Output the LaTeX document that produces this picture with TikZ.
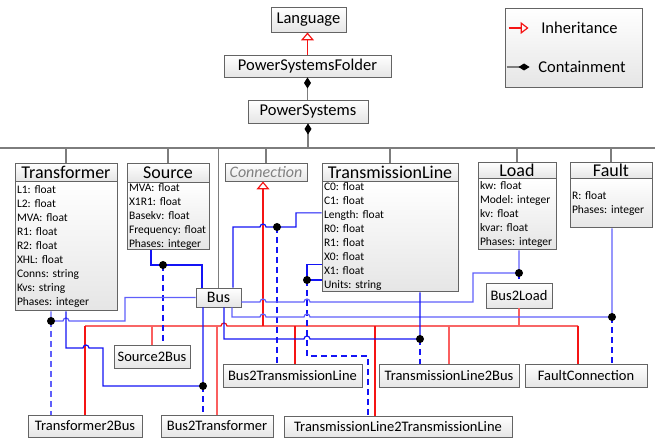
\documentclass[tikz,border=0pt]{standalone}
\usepackage{fontspec}
\setmainfont{Carlito}
\usetikzlibrary{arrows.meta, positioning, calc}

\definecolor{refblue}{RGB}{20,20,245}
\definecolor{refblueL}{RGB}{95,95,250}
\definecolor{isared}{RGB}{245,20,20}
\definecolor{isaredL}{RGB}{250,95,95}
\definecolor{treegray}{RGB}{125,125,125}
\definecolor{boxline}{RGB}{100,100,100}

\begin{document}
\frenchspacing
\hyphenpenalty=10000
\begin{tikzpicture}[x=1pt, y=-1pt,
    box/.style={draw=boxline, line width=0.9pt, top color=white, bottom color=black!10, inner sep=0pt, font=\fontsize{14.5}{17}\selectfont},
    topbox/.style={box, font=\fontsize{16.5}{19}\selectfont},
    head/.style={box, font=\fontsize{18}{20}\selectfont},
    attr/.style={box, align=left, inner xsep=2pt, font=\fontsize{11.5}{14}\selectfont},
    dot/.style={circle, fill=black, inner sep=0pt, minimum size=8pt},
    tree/.style={treegray, line width=1.1pt},
    owns/.style={tree, {Diamond[color=black, length=11pt, width=7pt]}-},
    isa/.style={isared, line width=1.2pt},
    isaL/.style={isaredL, line width=1.2pt},
    isatip/.style={{Triangle[open, length=8pt, width=13pt]}-},
    ref/.style={refblue, line width=1.2pt},
    refL/.style={refblueL, line width=1.2pt},
    refd/.style={ref, dash pattern=on 6pt off 4pt},
  ]
  \useasboundingbox (0,0) rectangle (664,438);

  % top of the model
  \node[topbox, minimum width=75pt, minimum height=25pt] (lang) at (308.5,19.5) {Language};
  \node[topbox, minimum width=167pt, minimum height=22pt] (folder) at (307.5,66) {PowerSystemsFolder};
  \node[topbox, minimum width=120pt, minimum height=23pt] (psys) at (308,111.5) {PowerSystems};

  % legend
  \node[box, minimum width=137pt, minimum height=79pt] (legend) at (573.5,47.5) {};
  \node[font=\fontsize{16.5}{19}\selectfont] (inhtxt) at (579.5,28) {Inheritance};
  \node[font=\fontsize{16.5}{19}\selectfont] (owntxt) at (582,67) {Containment};
  \draw[isa, -{Triangle[open, length=8pt, width=12pt]}] ([xshift=4pt]legend.west |- inhtxt) -- ([xshift=24pt]legend.west |- inhtxt);
  \draw[tree, -{Diamond[color=black, length=11pt, width=7pt]}] ([xshift=2pt]legend.west |- owntxt) -- ([xshift=25pt]legend.west |- owntxt);

  % classes
  \node[head, minimum width=102pt, minimum height=18pt] (trafo) at (66,172) {Transformer};
  \node[attr, text width=98pt, minimum height=129pt, below=0pt of trafo] (trafoattr)
    {L1: float\\L2: float\\MVA: float\\R1: float\\R2: float\\XHL: float\\Conns: string\\Kvs: string\\Phases: integer};
  \node[head, minimum width=82pt, minimum height=19pt] (source) at (168,172.5) {Source};
  \node[attr, text width=78pt, minimum height=67pt, below=0pt of source] (sourceattr)
    {MVA: float\\X1R1: float\\Basekv: float\\Frequency: float\\Phases: integer};
  \node[head, minimum width=82pt, minimum height=18pt, font=\fontsize{16}{19}\selectfont\itshape, text=black!50] (conn) at (266,172) {Connection};
  \node[head, minimum width=136pt, minimum height=18pt] (tline) at (390,172) {TransmissionLine};
  \node[attr, text width=132pt, minimum height=110pt, below=0pt of tline] (tlineattr)
    {C0: float\\C1: float\\Length: float\\R0: float\\R1: float\\X0: float\\X1: float\\Units: string};
  \node[head, minimum width=78pt, minimum height=16pt] (load) at (517,170) {Load};
  \node[attr, text width=74pt, minimum height=71pt, below=0pt of load] (loadattr)
    {kw: float\\Model: integer\\kv: float\\kvar: float\\Phases: integer};
  \node[head, minimum width=82pt, minimum height=16pt] (fault) at (611,170) {Fault};
  \node[attr, text width=78pt, minimum height=49pt, below=0pt of fault] (faultattr)
    {R: float\\Phases: integer};

  \node[box, font=\fontsize{16}{19}\selectfont, minimum width=45pt, minimum height=19pt] (bus) at (218.5,297.5) {Bus};

  % connection classes
  \node[box, minimum width=66pt, minimum height=25pt] (b2l) at (519,295.5) {Bus2Load};
  \node[box, minimum width=76pt, minimum height=23pt] (s2b) at (152,356.5) {Source2Bus};
  \node[box, minimum width=139pt, minimum height=23pt] (b2tl) at (292.5,375.5) {Bus2TransmissionLine};
  \node[box, minimum width=140pt, minimum height=23pt] (tl2b) at (449,375.5) {TransmissionLine2Bus};
  \node[box, minimum width=122pt, minimum height=23pt] (fconn) at (586,375.5) {FaultConnection};
  \node[box, minimum width=114pt, minimum height=22pt] (t2b) at (85,426) {Transformer2Bus};
  \node[box, minimum width=112pt, minimum height=22pt] (b2t) at (217,426) {Bus2Transformer};
  \node[box, minimum width=228pt, minimum height=21pt] (tl2tl) at (398,426.5) {TransmissionLine2TransmissionLine};

  % containment tree
  \coordinate (hub) at (308,148);
  \draw[owns] (folder.south) -- (folder.south |- psys.north);
  \draw[owns] (psys.south) -- (hub);
  \draw[tree] (0,148) -- (655,148);
  \foreach \cls in {trafo, source, conn, tline, load, fault}
    \draw[tree] (\cls.north |- hub) -- (\cls.north);
  \draw[tree] (bus.north |- hub) -- (bus.north);

  % inheritance
  \draw[isa, -{Triangle[open, length=8pt, width=13pt]}] (folder.north) -- (folder.north |- lang.south);
  \coordinate (railL) at (85,326);
  \coordinate (railR) at (578,326);
  \draw[isa, isatip] ([xshift=-3pt]conn.south) -- ([xshift=-3pt]conn.south |- railL);
  \draw[isa] (railL) -- (221,326) arc[start angle=180, end angle=360, radius=3] -- (railR);
  \draw[isa] (t2b.north |- railL) -- (t2b.north);
  \draw[isaL] (s2b.north |- railL) -- (s2b.north);
  \draw[isaL] (b2t.north |- railL) -- (b2t.north);
  \draw[isa] ([xshift=2.5pt]b2tl.north |- railL) -- ([xshift=2.5pt]b2tl.north);
  \draw[isa] ([xshift=-23pt]tl2tl.north |- railL) -- ([xshift=-23pt]tl2tl.north);
  \draw[isaL] (tl2b.north |- railL) -- (tl2b.north);
  \draw[isaL] (b2l.south |- railL) -- (b2l.south);
  \draw[isa] (railR) -- (railR |- fconn.north);

  % references
  \coordinate (t2bdot) at (51,321);
  \coordinate (sbdot) at (163,265);
  \coordinate (btdot) at (203,386);
  \coordinate (btldot) at (277,227);
  \coordinate (ttdot) at (307,280);
  \coordinate (tbdot) at (420,339);
  \coordinate (bldot) at (519,273);
  \coordinate (fdot) at (612,317);

  \draw[ref] ([xshift=-17pt]sourceattr.south) |- (sbdot) -| ([xshift=-16.5pt]bus.north);
  \draw[refd] (sbdot) -- (sbdot |- s2b.north);

  \draw[refL] ([xshift=-15pt]trafoattr.south) -- (t2bdot) -- (63,321) arc[start angle=180, end angle=360, radius=3]
    -- (125,321) |- (bus.west);
  \draw[refL, dash pattern=on 6pt off 4pt] (t2bdot) -- (t2bdot |- t2b.north);

  \draw[ref] (trafoattr.south) -- (66,348) -- (83,348) arc[start angle=180, end angle=360, radius=3]
    -- (103,348) |- (btdot) -- (btdot |- bus.south);
  \draw[refd] (btdot) -- (btdot |- b2t.north);

  \draw[ref] ([yshift=24pt]tlineattr.west) -| (296,227) -- (btldot) -- (266,227)
    arc[start angle=0, end angle=-180, radius=3] -| ([xshift=14.5pt]bus.north);
  \draw[refd] (btldot) -- (btldot |- b2tl.north);

  \draw[ref] ([yshift=-28pt]tlineattr.west) -| (ttdot) -- (ttdot -| tlineattr.west);
  \draw[refd] (ttdot) -- (307,356) -| ([xshift=-30pt]tl2tl.north);

  \draw[refL] ([yshift=-4.5pt]bus.east) -- (260,302) arc[start angle=180, end angle=360, radius=3]
    -- (304,302) arc[start angle=180, end angle=360, radius=3] -- (473,302) |- (bldot) -- (bldot |- loadattr.south);
  \draw[refd] (bldot) -- (b2l.north);

  \draw[refL] ([xshift=13.5pt]bus.south) |- (260,317) arc[start angle=180, end angle=360, radius=3]
    -- (304,317) arc[start angle=180, end angle=360, radius=3] -- (fdot) -- (fdot |- faultattr.south);
  \draw[refd] (fdot) -- (fdot |- fconn.north);

  \draw[ref] ([xshift=5.5pt]bus.south) |- (304,339) arc[start angle=180, end angle=360, radius=3]
    -- (tbdot) -- (tbdot |- tlineattr.south);
  \draw[refd] (tbdot) -- (tbdot |- tl2b.north);

  \foreach \j in {t2bdot, sbdot, btdot, btldot, ttdot, tbdot, bldot, fdot}
    \node[dot] at (\j) {};
\end{tikzpicture}
\end{document}
